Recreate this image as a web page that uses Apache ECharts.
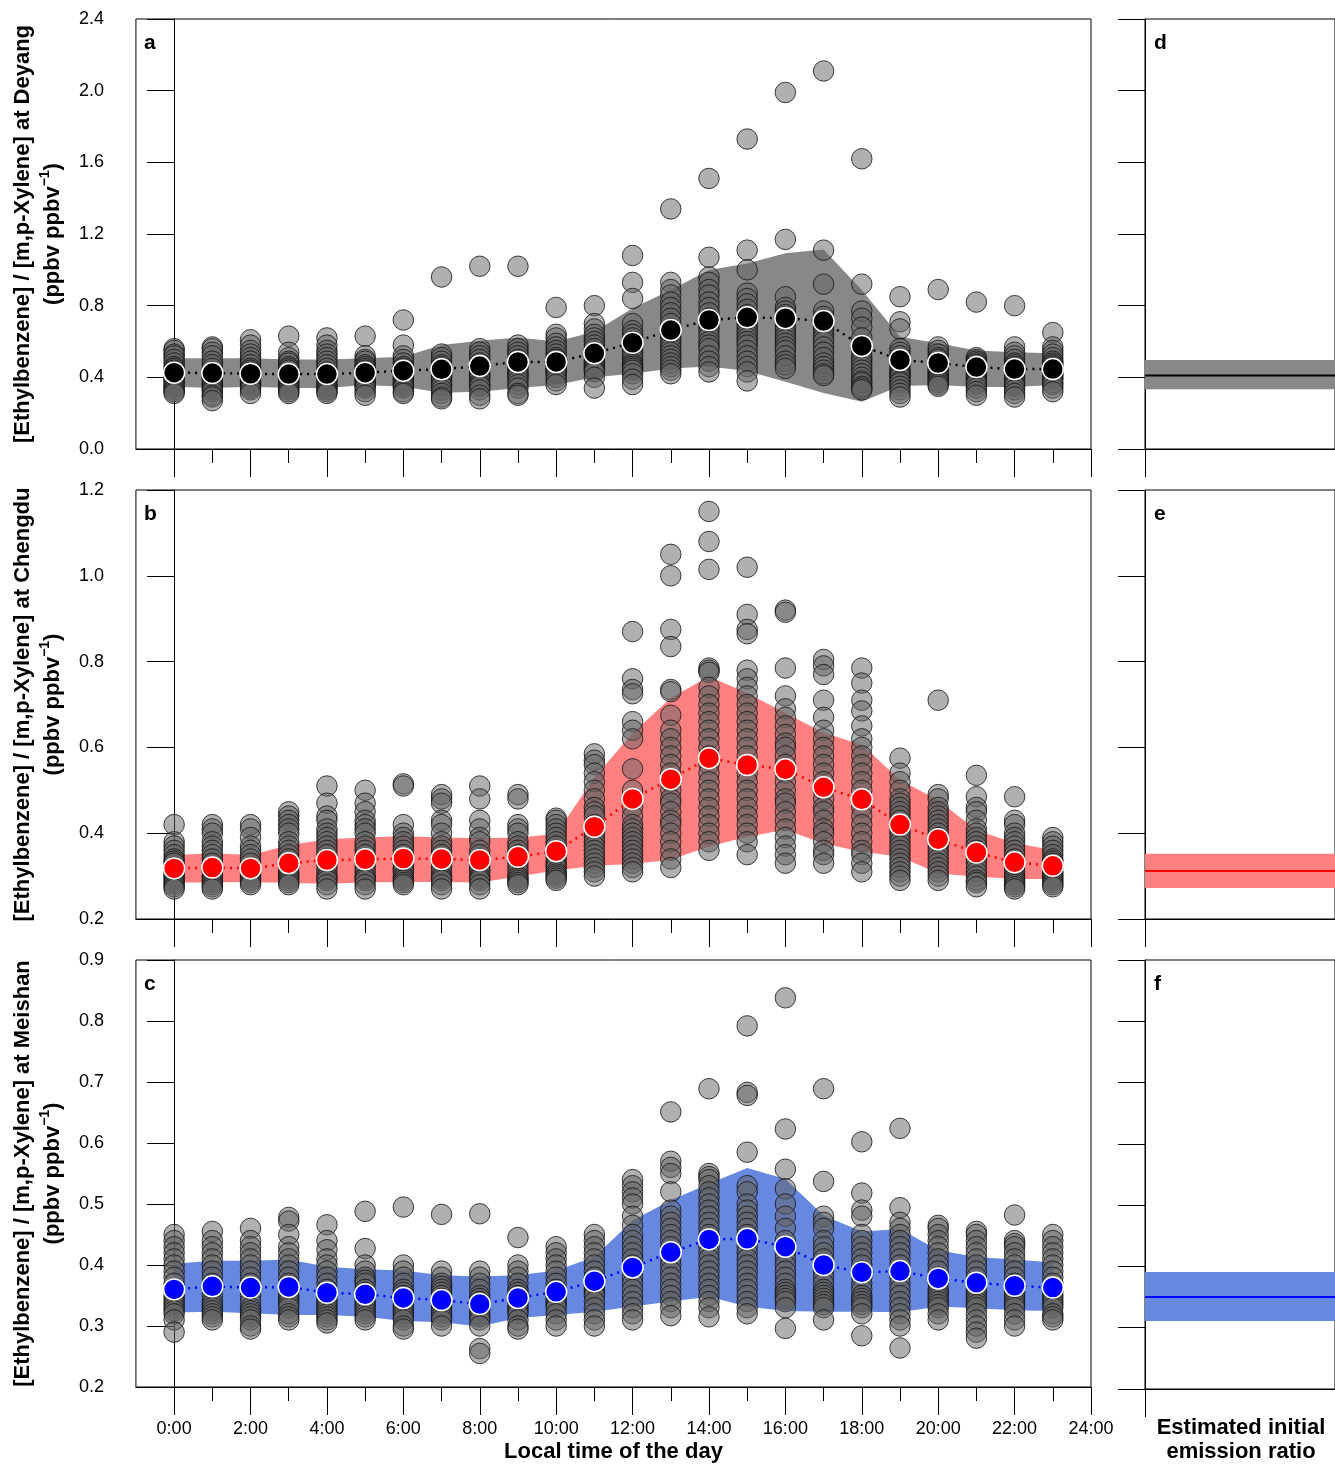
<!DOCTYPE html>
<html lang="en">
<head>
<meta charset="UTF-8">
<title>Ethylbenzene / m,p-Xylene ratio by hour</title>
<script src="https://cdn.jsdelivr.net/npm/echarts@6/dist/echarts.min.js"></script>
<style>
    html, body { margin: 0; padding: 0; background: #fff; }
    #main { width: 1335px; height: 1464px; }
</style>
</head>
<body>
<div id="main"></div>
<script>
var FONT = '"Liberation Sans", Arial, Helvetica, sans-serif';

// hours of the day and tick labels
var hours = [0, 1, 2, 3, 4, 5, 6, 7, 8, 9, 10, 11, 12, 13, 14, 15, 16, 17, 18, 19, 20, 21, 22, 23];
var majorHours = [0, 2, 4, 6, 8, 10, 12, 14, 16, 18, 20, 22, 24];
var minorHours = [1, 3, 5, 7, 9, 11, 13, 15, 17, 19, 21, 23];
var timeLabels = ['0:00', '2:00', '4:00', '6:00', '8:00', '10:00', '12:00', '14:00', '16:00', '18:00', '20:00', '22:00', '24:00'];
var sites = ['Deyang', 'Chengdu', 'Meishan'];
var panelLetters = ['a', 'b', 'c', 'd', 'e', 'f'];

// y axis ranges per site: [min, max, interval]
var yRanges = [[0, 2.4, 0.4], [0.2, 1.2, 0.2], [0.2, 0.9, 0.1]];

// Deyang (a)
var deyangMean = [0.426, 0.424, 0.42, 0.418, 0.418, 0.426, 0.437, 0.445, 0.463, 0.486, 0.486, 0.534,
    0.593, 0.664, 0.72, 0.735, 0.73, 0.714, 0.575, 0.497, 0.48, 0.457, 0.446, 0.446];
var deyangLow = [0.348, 0.34, 0.348, 0.34, 0.34, 0.357, 0.348, 0.314, 0.32, 0.34, 0.357, 0.40,
    0.42, 0.45, 0.46, 0.435, 0.376, 0.312, 0.264, 0.352, 0.357, 0.346, 0.346, 0.357];
var deyangHigh = [0.506, 0.506, 0.506, 0.50, 0.50, 0.506, 0.515, 0.58, 0.604, 0.623, 0.60, 0.655,
    0.785, 0.887, 0.999, 1.036, 1.092, 1.114, 0.887, 0.627, 0.59, 0.55, 0.54, 0.535];
var deyangPoints = [
    [0.56, 0.55, 0.53, 0.52, 0.50, 0.48, 0.46, 0.45, 0.44, 0.43, 0.42, 0.41, 0.40, 0.39, 0.38, 0.37, 0.36, 0.35, 0.34, 0.33, 0.32, 0.31],
    [0.57, 0.56, 0.54, 0.52, 0.49, 0.47, 0.45, 0.43, 0.42, 0.41, 0.40, 0.39, 0.38, 0.37, 0.36, 0.35, 0.34, 0.33, 0.32, 0.30, 0.29, 0.27],
    [0.61, 0.58, 0.55, 0.53, 0.51, 0.49, 0.47, 0.45, 0.44, 0.43, 0.42, 0.41, 0.40, 0.39, 0.38, 0.37, 0.36, 0.35, 0.34, 0.33, 0.31],
    [0.63, 0.54, 0.51, 0.49, 0.48, 0.46, 0.45, 0.44, 0.42, 0.41, 0.40, 0.39, 0.38, 0.37, 0.36, 0.35, 0.34, 0.33, 0.32, 0.31],
    [0.62, 0.58, 0.55, 0.53, 0.51, 0.49, 0.47, 0.45, 0.43, 0.42, 0.41, 0.40, 0.39, 0.38, 0.36, 0.35, 0.34, 0.33, 0.32, 0.31],
    [0.63, 0.52, 0.50, 0.49, 0.47, 0.46, 0.45, 0.44, 0.43, 0.42, 0.41, 0.40, 0.39, 0.38, 0.37, 0.36, 0.35, 0.34, 0.32, 0.30],
    [0.72, 0.58, 0.52, 0.50, 0.48, 0.46, 0.45, 0.44, 0.43, 0.42, 0.41, 0.40, 0.39, 0.38, 0.37, 0.36, 0.35, 0.34, 0.32, 0.31],
    [0.96, 0.53, 0.51, 0.49, 0.47, 0.46, 0.44, 0.43, 0.42, 0.41, 0.40, 0.39, 0.38, 0.36, 0.35, 0.33, 0.31, 0.29, 0.28],
    [1.02, 0.56, 0.54, 0.52, 0.50, 0.48, 0.46, 0.45, 0.44, 0.42, 0.41, 0.40, 0.39, 0.37, 0.36, 0.35, 0.33, 0.30, 0.28],
    [1.02, 0.58, 0.56, 0.54, 0.52, 0.50, 0.49, 0.48, 0.46, 0.45, 0.43, 0.42, 0.41, 0.40, 0.38, 0.36, 0.34, 0.31, 0.30],
    [0.79, 0.64, 0.62, 0.59, 0.57, 0.55, 0.53, 0.51, 0.50, 0.48, 0.47, 0.46, 0.45, 0.44, 0.43, 0.42, 0.40, 0.38, 0.36],
    [0.80, 0.70, 0.67, 0.64, 0.62, 0.60, 0.58, 0.56, 0.54, 0.52, 0.50, 0.49, 0.48, 0.47, 0.46, 0.45, 0.44, 0.43, 0.40, 0.34],
    [1.08, 0.93, 0.84, 0.70, 0.66, 0.64, 0.62, 0.60, 0.58, 0.56, 0.54, 0.52, 0.50, 0.48, 0.47, 0.46, 0.45, 0.44, 0.42, 0.39, 0.36],
    [1.34, 0.93, 0.89, 0.86, 0.82, 0.79, 0.76, 0.73, 0.70, 0.67, 0.64, 0.62, 0.60, 0.58, 0.56, 0.54, 0.52, 0.50, 0.48, 0.46, 0.44, 0.42],
    [1.51, 1.07, 0.96, 0.93, 0.89, 0.86, 0.82, 0.79, 0.76, 0.73, 0.70, 0.68, 0.66, 0.63, 0.60, 0.58, 0.56, 0.52, 0.49, 0.46, 0.43],
    [1.73, 1.11, 1.00, 0.87, 0.84, 0.81, 0.78, 0.75, 0.73, 0.70, 0.68, 0.66, 0.64, 0.62, 0.60, 0.58, 0.55, 0.52, 0.49, 0.46, 0.43, 0.38],
    [1.99, 1.17, 0.85, 0.79, 0.77, 0.75, 0.73, 0.71, 0.69, 0.67, 0.65, 0.63, 0.61, 0.59, 0.57, 0.55, 0.52, 0.49, 0.47, 0.45],
    [2.11, 1.11, 0.92, 0.77, 0.74, 0.72, 0.70, 0.68, 0.66, 0.64, 0.62, 0.60, 0.57, 0.54, 0.51, 0.48, 0.46, 0.44, 0.42, 0.41],
    [1.62, 0.92, 0.77, 0.73, 0.68, 0.62, 0.58, 0.55, 0.52, 0.50, 0.48, 0.46, 0.44, 0.42, 0.40, 0.38, 0.37, 0.35, 0.34, 0.33],
    [0.85, 0.71, 0.67, 0.56, 0.54, 0.52, 0.50, 0.48, 0.46, 0.44, 0.43, 0.42, 0.41, 0.40, 0.38, 0.37, 0.35, 0.33, 0.31, 0.29],
    [0.89, 0.57, 0.55, 0.53, 0.51, 0.50, 0.48, 0.47, 0.46, 0.45, 0.44, 0.43, 0.42, 0.41, 0.40, 0.39, 0.38, 0.37, 0.36, 0.35],
    [0.82, 0.51, 0.50, 0.49, 0.48, 0.47, 0.46, 0.45, 0.44, 0.43, 0.42, 0.41, 0.40, 0.39, 0.38, 0.37, 0.36, 0.34, 0.32, 0.30],
    [0.80, 0.57, 0.54, 0.52, 0.50, 0.48, 0.47, 0.46, 0.45, 0.44, 0.43, 0.42, 0.41, 0.40, 0.39, 0.37, 0.36, 0.35, 0.33, 0.31, 0.29],
    [0.65, 0.57, 0.55, 0.53, 0.51, 0.49, 0.48, 0.47, 0.46, 0.45, 0.44, 0.43, 0.42, 0.41, 0.40, 0.39, 0.37, 0.36, 0.34, 0.32]
];

// Chengdu (b)
var chengduMean = [0.318, 0.32, 0.318, 0.33, 0.3375, 0.339, 0.341, 0.34, 0.3375, 0.345, 0.358, 0.415,
    0.48, 0.526, 0.575, 0.559, 0.549, 0.507, 0.479, 0.42, 0.386, 0.355, 0.332, 0.324];
var chengduLow = [0.285, 0.285, 0.286, 0.284, 0.282, 0.285, 0.286, 0.286, 0.285, 0.299, 0.313, 0.324,
    0.328, 0.338, 0.369, 0.392, 0.408, 0.376, 0.357, 0.345, 0.306, 0.299, 0.293, 0.293];
var chengduHigh = [0.349, 0.353, 0.349, 0.372, 0.386, 0.39, 0.393, 0.39, 0.388, 0.39, 0.398, 0.53,
    0.633, 0.715, 0.765, 0.727, 0.68, 0.634, 0.606, 0.524, 0.477, 0.407, 0.377, 0.361];
var chengduPoints = [
    [0.42, 0.38, 0.37, 0.36, 0.35, 0.34, 0.335, 0.33, 0.32, 0.315, 0.31, 0.305, 0.30, 0.295, 0.29, 0.285, 0.28, 0.275, 0.27],
    [0.42, 0.41, 0.40, 0.38, 0.37, 0.36, 0.35, 0.34, 0.33, 0.32, 0.315, 0.31, 0.30, 0.295, 0.29, 0.285, 0.28, 0.275, 0.27],
    [0.42, 0.41, 0.39, 0.37, 0.36, 0.35, 0.34, 0.33, 0.32, 0.315, 0.31, 0.305, 0.30, 0.295, 0.29, 0.285, 0.28],
    [0.45, 0.44, 0.43, 0.42, 0.41, 0.40, 0.38, 0.37, 0.36, 0.35, 0.34, 0.33, 0.32, 0.31, 0.305, 0.30, 0.295, 0.29, 0.285, 0.28],
    [0.51, 0.47, 0.44, 0.43, 0.41, 0.40, 0.39, 0.38, 0.37, 0.36, 0.35, 0.34, 0.33, 0.32, 0.31, 0.30, 0.295, 0.29, 0.28, 0.27],
    [0.50, 0.47, 0.45, 0.43, 0.42, 0.41, 0.40, 0.38, 0.37, 0.36, 0.35, 0.34, 0.33, 0.32, 0.31, 0.30, 0.295, 0.29, 0.28, 0.27],
    [0.515, 0.51, 0.42, 0.40, 0.39, 0.38, 0.37, 0.36, 0.35, 0.34, 0.33, 0.32, 0.315, 0.31, 0.30, 0.295, 0.29, 0.285, 0.28],
    [0.49, 0.48, 0.47, 0.43, 0.42, 0.40, 0.38, 0.37, 0.36, 0.35, 0.34, 0.33, 0.32, 0.31, 0.30, 0.295, 0.29, 0.28, 0.27],
    [0.51, 0.48, 0.43, 0.41, 0.39, 0.38, 0.36, 0.35, 0.34, 0.33, 0.32, 0.315, 0.31, 0.30, 0.295, 0.29, 0.28, 0.27],
    [0.49, 0.48, 0.42, 0.41, 0.40, 0.38, 0.37, 0.36, 0.35, 0.34, 0.33, 0.32, 0.31, 0.30, 0.295, 0.29, 0.285, 0.28],
    [0.435, 0.43, 0.42, 0.41, 0.40, 0.39, 0.38, 0.37, 0.36, 0.35, 0.34, 0.33, 0.325, 0.32, 0.31, 0.305, 0.30, 0.295, 0.29],
    [0.585, 0.57, 0.56, 0.54, 0.52, 0.50, 0.48, 0.46, 0.45, 0.44, 0.42, 0.41, 0.40, 0.39, 0.38, 0.37, 0.36, 0.35, 0.34, 0.33, 0.32, 0.31, 0.30],
    [0.87, 0.76, 0.735, 0.725, 0.66, 0.64, 0.62, 0.55, 0.50, 0.48, 0.46, 0.44, 0.42, 0.41, 0.40, 0.39, 0.38, 0.37, 0.36, 0.35, 0.34, 0.33, 0.32, 0.31],
    [1.05, 1.00, 0.875, 0.835, 0.735, 0.73, 0.675, 0.64, 0.62, 0.60, 0.58, 0.56, 0.54, 0.52, 0.50, 0.48, 0.47, 0.45, 0.43, 0.42, 0.40, 0.38, 0.36, 0.34, 0.32],
    [1.15, 1.08, 1.015, 0.785, 0.78, 0.775, 0.74, 0.72, 0.70, 0.68, 0.66, 0.64, 0.62, 0.60, 0.58, 0.56, 0.54, 0.52, 0.50, 0.48, 0.46, 0.44, 0.42, 0.40, 0.38, 0.36],
    [1.02, 0.91, 0.875, 0.865, 0.78, 0.76, 0.74, 0.72, 0.70, 0.68, 0.66, 0.64, 0.62, 0.60, 0.58, 0.56, 0.54, 0.52, 0.50, 0.48, 0.46, 0.44, 0.42, 0.40, 0.38, 0.35],
    [0.92, 0.915, 0.785, 0.72, 0.69, 0.67, 0.65, 0.63, 0.61, 0.60, 0.58, 0.56, 0.54, 0.52, 0.50, 0.48, 0.47, 0.45, 0.43, 0.41, 0.39, 0.37, 0.35, 0.33],
    [0.805, 0.79, 0.77, 0.71, 0.67, 0.64, 0.62, 0.60, 0.58, 0.56, 0.54, 0.52, 0.50, 0.48, 0.46, 0.45, 0.43, 0.41, 0.40, 0.38, 0.36, 0.35, 0.33],
    [0.785, 0.75, 0.71, 0.685, 0.65, 0.62, 0.60, 0.58, 0.56, 0.54, 0.52, 0.50, 0.48, 0.46, 0.44, 0.42, 0.40, 0.38, 0.36, 0.35, 0.33, 0.31],
    [0.575, 0.54, 0.52, 0.50, 0.48, 0.47, 0.46, 0.45, 0.44, 0.43, 0.42, 0.41, 0.40, 0.39, 0.38, 0.37, 0.36, 0.35, 0.34, 0.33, 0.32, 0.31, 0.30, 0.29],
    [0.71, 0.49, 0.48, 0.46, 0.45, 0.44, 0.43, 0.42, 0.41, 0.40, 0.39, 0.38, 0.37, 0.36, 0.35, 0.34, 0.33, 0.32, 0.31, 0.30, 0.29],
    [0.535, 0.485, 0.46, 0.45, 0.43, 0.41, 0.40, 0.39, 0.38, 0.37, 0.36, 0.35, 0.34, 0.33, 0.32, 0.31, 0.30, 0.29, 0.285, 0.275],
    [0.485, 0.43, 0.42, 0.40, 0.39, 0.38, 0.37, 0.36, 0.35, 0.34, 0.33, 0.32, 0.31, 0.30, 0.295, 0.29, 0.285, 0.28, 0.275, 0.27],
    [0.39, 0.38, 0.37, 0.36, 0.35, 0.34, 0.335, 0.33, 0.325, 0.32, 0.31, 0.305, 0.30, 0.295, 0.29, 0.285, 0.28, 0.275]
];

// Meishan (c)
var meishanMean = [0.36, 0.365, 0.363, 0.364, 0.3545, 0.352, 0.346, 0.3425, 0.336, 0.346, 0.356, 0.3735,
    0.396, 0.421, 0.442, 0.443, 0.43, 0.40, 0.388, 0.39, 0.378, 0.371, 0.366, 0.363];
var meishanLow = [0.322, 0.3235, 0.321, 0.318, 0.318, 0.315, 0.308, 0.306, 0.299, 0.313, 0.318, 0.3235,
    0.332, 0.34, 0.348, 0.332, 0.3245, 0.3235, 0.3235, 0.3224, 0.332, 0.329, 0.326, 0.3245];
var meishanHigh = [0.402, 0.407, 0.407, 0.409, 0.397, 0.393, 0.391, 0.383, 0.381, 0.383, 0.391, 0.413,
    0.473, 0.506, 0.533, 0.559, 0.541, 0.481, 0.455, 0.459, 0.424, 0.413, 0.409, 0.404];
var meishanPoints = [
    [0.45, 0.44, 0.43, 0.42, 0.41, 0.40, 0.39, 0.38, 0.37, 0.36, 0.35, 0.345, 0.34, 0.335, 0.33, 0.325, 0.32, 0.31, 0.29],
    [0.455, 0.44, 0.43, 0.42, 0.41, 0.40, 0.39, 0.38, 0.37, 0.36, 0.35, 0.34, 0.335, 0.33, 0.325, 0.32, 0.315, 0.31],
    [0.46, 0.44, 0.43, 0.42, 0.41, 0.40, 0.39, 0.38, 0.37, 0.36, 0.35, 0.34, 0.33, 0.325, 0.32, 0.315, 0.31, 0.30, 0.295],
    [0.478, 0.472, 0.45, 0.43, 0.42, 0.41, 0.40, 0.39, 0.38, 0.37, 0.36, 0.35, 0.345, 0.34, 0.335, 0.33, 0.32, 0.315, 0.31],
    [0.466, 0.44, 0.425, 0.41, 0.40, 0.39, 0.38, 0.37, 0.36, 0.35, 0.345, 0.34, 0.335, 0.33, 0.325, 0.32, 0.315, 0.31, 0.305],
    [0.488, 0.427, 0.40, 0.39, 0.38, 0.375, 0.37, 0.36, 0.355, 0.35, 0.345, 0.34, 0.335, 0.33, 0.325, 0.32, 0.315, 0.31],
    [0.495, 0.40, 0.39, 0.38, 0.37, 0.36, 0.355, 0.35, 0.345, 0.34, 0.335, 0.33, 0.325, 0.32, 0.315, 0.31, 0.30, 0.295],
    [0.483, 0.39, 0.38, 0.37, 0.365, 0.36, 0.355, 0.35, 0.345, 0.34, 0.335, 0.33, 0.325, 0.32, 0.315, 0.31, 0.30],
    [0.484, 0.39, 0.38, 0.37, 0.36, 0.35, 0.345, 0.34, 0.335, 0.33, 0.325, 0.32, 0.315, 0.31, 0.30, 0.263, 0.255],
    [0.445, 0.40, 0.39, 0.38, 0.37, 0.36, 0.355, 0.35, 0.345, 0.34, 0.335, 0.33, 0.325, 0.32, 0.31, 0.30, 0.295],
    [0.43, 0.42, 0.41, 0.40, 0.39, 0.38, 0.37, 0.36, 0.355, 0.35, 0.345, 0.34, 0.335, 0.33, 0.32, 0.31, 0.30],
    [0.45, 0.44, 0.43, 0.42, 0.41, 0.40, 0.39, 0.38, 0.37, 0.365, 0.36, 0.355, 0.35, 0.34, 0.33, 0.32, 0.31, 0.30],
    [0.54, 0.53, 0.52, 0.51, 0.50, 0.48, 0.465, 0.45, 0.44, 0.43, 0.42, 0.41, 0.40, 0.39, 0.38, 0.37, 0.36, 0.35, 0.34, 0.33, 0.32, 0.31],
    [0.651, 0.57, 0.56, 0.55, 0.52, 0.49, 0.48, 0.47, 0.46, 0.45, 0.44, 0.43, 0.42, 0.41, 0.40, 0.39, 0.38, 0.37, 0.36, 0.35, 0.34, 0.33, 0.317],
    [0.689, 0.55, 0.545, 0.54, 0.53, 0.52, 0.51, 0.50, 0.49, 0.48, 0.47, 0.46, 0.45, 0.44, 0.43, 0.42, 0.41, 0.40, 0.39, 0.38, 0.37, 0.36, 0.35, 0.34, 0.33, 0.315],
    [0.792, 0.683, 0.678, 0.585, 0.53, 0.52, 0.50, 0.49, 0.48, 0.47, 0.46, 0.45, 0.44, 0.43, 0.42, 0.41, 0.40, 0.39, 0.38, 0.37, 0.36, 0.35, 0.34, 0.33, 0.32],
    [0.838, 0.623, 0.557, 0.525, 0.50, 0.48, 0.46, 0.44, 0.43, 0.42, 0.41, 0.40, 0.39, 0.38, 0.37, 0.36, 0.355, 0.35, 0.345, 0.34, 0.33, 0.296],
    [0.689, 0.537, 0.48, 0.47, 0.46, 0.44, 0.43, 0.42, 0.41, 0.40, 0.39, 0.38, 0.37, 0.36, 0.355, 0.35, 0.345, 0.34, 0.335, 0.33, 0.31],
    [0.602, 0.518, 0.49, 0.48, 0.45, 0.44, 0.43, 0.42, 0.41, 0.40, 0.39, 0.38, 0.37, 0.36, 0.35, 0.345, 0.34, 0.335, 0.33, 0.32, 0.284],
    [0.624, 0.494, 0.47, 0.46, 0.45, 0.44, 0.43, 0.42, 0.41, 0.40, 0.39, 0.38, 0.37, 0.36, 0.35, 0.34, 0.33, 0.32, 0.31, 0.30, 0.264],
    [0.465, 0.46, 0.45, 0.44, 0.43, 0.42, 0.41, 0.40, 0.39, 0.38, 0.37, 0.36, 0.355, 0.35, 0.345, 0.34, 0.335, 0.33, 0.32, 0.31],
    [0.455, 0.45, 0.44, 0.43, 0.42, 0.41, 0.40, 0.39, 0.38, 0.37, 0.36, 0.355, 0.35, 0.345, 0.34, 0.335, 0.33, 0.32, 0.31, 0.30, 0.29, 0.28],
    [0.482, 0.44, 0.435, 0.43, 0.42, 0.41, 0.40, 0.39, 0.38, 0.37, 0.36, 0.355, 0.35, 0.345, 0.34, 0.335, 0.33, 0.32, 0.31, 0.30],
    [0.45, 0.44, 0.43, 0.42, 0.41, 0.40, 0.39, 0.38, 0.37, 0.36, 0.355, 0.35, 0.345, 0.34, 0.335, 0.33, 0.32, 0.315, 0.31]
];

// estimated initial emission ratio (d, e, f)
var initialRatio = [0.41, 0.312, 0.35];
var initialLow = [0.334, 0.272, 0.311];
var initialHigh = [0.497, 0.352, 0.391];

var meanSets = [deyangMean, chengduMean, meishanMean];
var lowSets = [deyangLow, chengduLow, meishanLow];
var highSets = [deyangHigh, chengduHigh, meishanHigh];
var pointSets = [deyangPoints, chengduPoints, meishanPoints];
var meanColors = ['#000000', '#ff0000', '#0000ff'];
var bandColors = ['#888888', '#ff8080', '#6688e0'];

var mainTops = [19, 490, 960];
var mainHeights = [430, 429, 429];

var chart = echarts.init(document.getElementById('main'));

var grids = [];
var xAxes = [];
var yAxes = [];
var series = [];
var graphics = [];

// main panels
for (var k = 0; k < 3; k++) {
    grids.push({ left: 135, top: mainTops[k], width: 956, height: mainHeights[k],
        show: true, borderColor: '#000', borderWidth: 1, backgroundColor: 'transparent' });
}
// right panels
for (var k = 0; k < 3; k++) {
    grids.push({ left: 1145, top: mainTops[k], width: 200, height: mainHeights[k],
        show: true, borderColor: '#000', borderWidth: 1, backgroundColor: 'transparent' });
}

// x axes: 0-2 major ticks (and labels for c), 3-5 minor ticks, 6-8 right panels
for (var k = 0; k < 3; k++) {
    var ax = {
        type: 'value', gridIndex: k, position: 'bottom', offset: 0,
        min: -1, max: 24, interval: 1,
        axisLine: { show: true, lineStyle: { color: '#000', width: 1 } },
        axisTick: { show: true, customValues: majorHours, length: 28, lineStyle: { color: '#000', width: 1 } },
        axisLabel: {
            show: k === 2, customValues: majorHours, margin: 33,
            fontFamily: FONT, fontSize: 18, color: '#000',
            formatter: function (v) { return timeLabels[majorHours.indexOf(v)]; }
        },
        splitLine: { show: false }
    };
    if (k === 2) {
        ax.name = 'Local time of the day';
        ax.nameLocation = 'middle';
        ax.nameGap = 54;
        ax.nameTextStyle = { fontFamily: FONT, fontSize: 22, fontWeight: 'bold', color: '#000' };
    }
    xAxes.push(ax);
}
for (var k = 0; k < 3; k++) {
    xAxes.push({
        type: 'value', gridIndex: k, position: 'bottom', offset: 0,
        min: -1, max: 24, interval: 1,
        axisLine: { show: false },
        axisTick: { show: true, customValues: minorHours, length: 14, lineStyle: { color: '#000', width: 1 } },
        axisLabel: { show: false },
        splitLine: { show: false }
    });
}
for (var k = 0; k < 3; k++) {
    xAxes.push({
        type: 'value', gridIndex: 3 + k, position: 'bottom',
        min: 0, max: 1, interval: 1,
        axisLine: { show: true, lineStyle: { color: '#000', width: 1 } },
        axisTick: { show: true, length: 28, lineStyle: { color: '#000', width: 1 } },
        axisLabel: { show: false },
        splitLine: { show: false }
    });
}

// y axes: 0-2 main, 3-5 right
for (var k = 0; k < 3; k++) {
    yAxes.push({
        type: 'value', gridIndex: k,
        min: yRanges[k][0], max: yRanges[k][1], interval: yRanges[k][2],
        axisLine: { show: true, lineStyle: { color: '#000', width: 1 } },
        axisTick: { show: true, length: 27, lineStyle: { color: '#000', width: 1 } },
        axisLabel: { margin: 32, fontFamily: FONT, fontSize: 18, color: '#000',
            formatter: function (v) { return v.toFixed(1); } },
        splitLine: { show: false },
        name: '[Ethylbenzene] / [m,p-Xylene] at ' + sites[k] + '\n(ppbv ppbv{sup|\u22121})',
        nameLocation: 'middle', nameRotate: 90, nameGap: 67,
        nameTextStyle: {
            fontFamily: FONT, fontSize: 22, fontWeight: 'bold', color: '#000', lineHeight: 30,
            rich: { sup: { fontFamily: FONT, fontSize: 14, fontWeight: 'bold', color: '#000', verticalAlign: 'top', lineHeight: 30 } }
        }
    });
}
for (var k = 0; k < 3; k++) {
    yAxes.push({
        type: 'value', gridIndex: 3 + k,
        min: yRanges[k][0], max: yRanges[k][1], interval: yRanges[k][2],
        axisLine: { show: true, lineStyle: { color: '#000', width: 1 } },
        axisTick: { show: true, length: 27, lineStyle: { color: '#000', width: 1 } },
        axisLabel: { show: false },
        splitLine: { show: false }
    });
}

function bandSeries(k) {
    var lo = lowSets[k], hi = highSets[k];
    return {
        type: 'custom', xAxisIndex: k, yAxisIndex: k, z: 1, silent: true,
        data: hours.map(function (h, i) { return [h, lo[i], hi[i]]; }),
        encode: { x: 0, y: [1, 2] },
        renderItem: function (params, api) {
            if (params.dataIndex !== 0) return null;
            var pts = [];
            for (var i = 0; i < hours.length; i++) pts.push(api.coord([hours[i], hi[i]]));
            for (var j = hours.length - 1; j >= 0; j--) pts.push(api.coord([hours[j], lo[j]]));
            return { type: 'polygon', shape: { points: pts }, style: { fill: bandColors[k] } };
        }
    };
}

function ratioSeries(k) {
    return {
        type: 'custom', xAxisIndex: 6 + k, yAxisIndex: 3 + k, z: 1, silent: true,
        data: [[0, initialLow[k], initialHigh[k], initialRatio[k]]],
        encode: { x: 0, y: [1, 2] },
        renderItem: function (params, api) {
            var a = api.coord([0, api.value(2)]);
            var b = api.coord([1, api.value(1)]);
            var m0 = api.coord([0, api.value(3)]);
            var m1 = api.coord([1, api.value(3)]);
            return { type: 'group', children: [
                { type: 'rect', shape: { x: a[0], y: a[1], width: b[0] - a[0], height: b[1] - a[1] },
                  style: { fill: bandColors[k] } },
                { type: 'line', shape: { x1: m0[0], y1: m0[1], x2: m1[0], y2: m1[1] },
                  style: { stroke: meanColors[k], lineWidth: 2 } }
            ] };
        }
    };
}

for (var k = 0; k < 3; k++) {
    series.push(bandSeries(k));

    var scatterData = [];
    pointSets[k].forEach(function (vals, h) {
        vals.forEach(function (v) { scatterData.push([hours[h], v]); });
    });
    series.push({
        type: 'scatter', xAxisIndex: k, yAxisIndex: k, z: 2, silent: true,
        symbol: 'circle', symbolSize: 20.5,
        data: scatterData,
        itemStyle: { color: 'rgba(100,100,100,0.64)', borderColor: '#111', borderWidth: 1 }
    });

    series.push({
        type: 'line', xAxisIndex: k, yAxisIndex: k, z: 3, silent: true,
        data: hours.map(function (h, i) { return [h, meanSets[k][i]]; }),
        symbol: 'circle', symbolSize: 21, showSymbol: true, showAllSymbol: true,
        lineStyle: { color: meanColors[k], width: 2.5, type: [2, 5] },
        itemStyle: { color: meanColors[k], borderColor: '#fff', borderWidth: 1.5 }
    });

    series.push(ratioSeries(k));
}

// panel letters
var letterPos = [[144, 33], [144, 504], [144, 974], [1154, 33], [1154, 504], [1154, 974]];
panelLetters.forEach(function (t, i) {
    graphics.push({ type: 'text', x: letterPos[i][0], y: letterPos[i][1], silent: true,
        style: { text: t, fontFamily: FONT, fontSize: 21, fontWeight: 'bold', fill: '#000' } });
});
graphics.push({ type: 'text', x: 1241, y: 1416, silent: true,
    style: { text: 'Estimated initial\nemission ratio', fontFamily: FONT, fontSize: 22, fontWeight: 'bold',
        fill: '#000', align: 'center', verticalAlign: 'top', lineHeight: 24 } });

chart.setOption({
    backgroundColor: '#fff',
    animation: false,
    grid: grids,
    xAxis: xAxes,
    yAxis: yAxes,
    series: series,
    graphic: graphics
});
</script>
</body>
</html>
